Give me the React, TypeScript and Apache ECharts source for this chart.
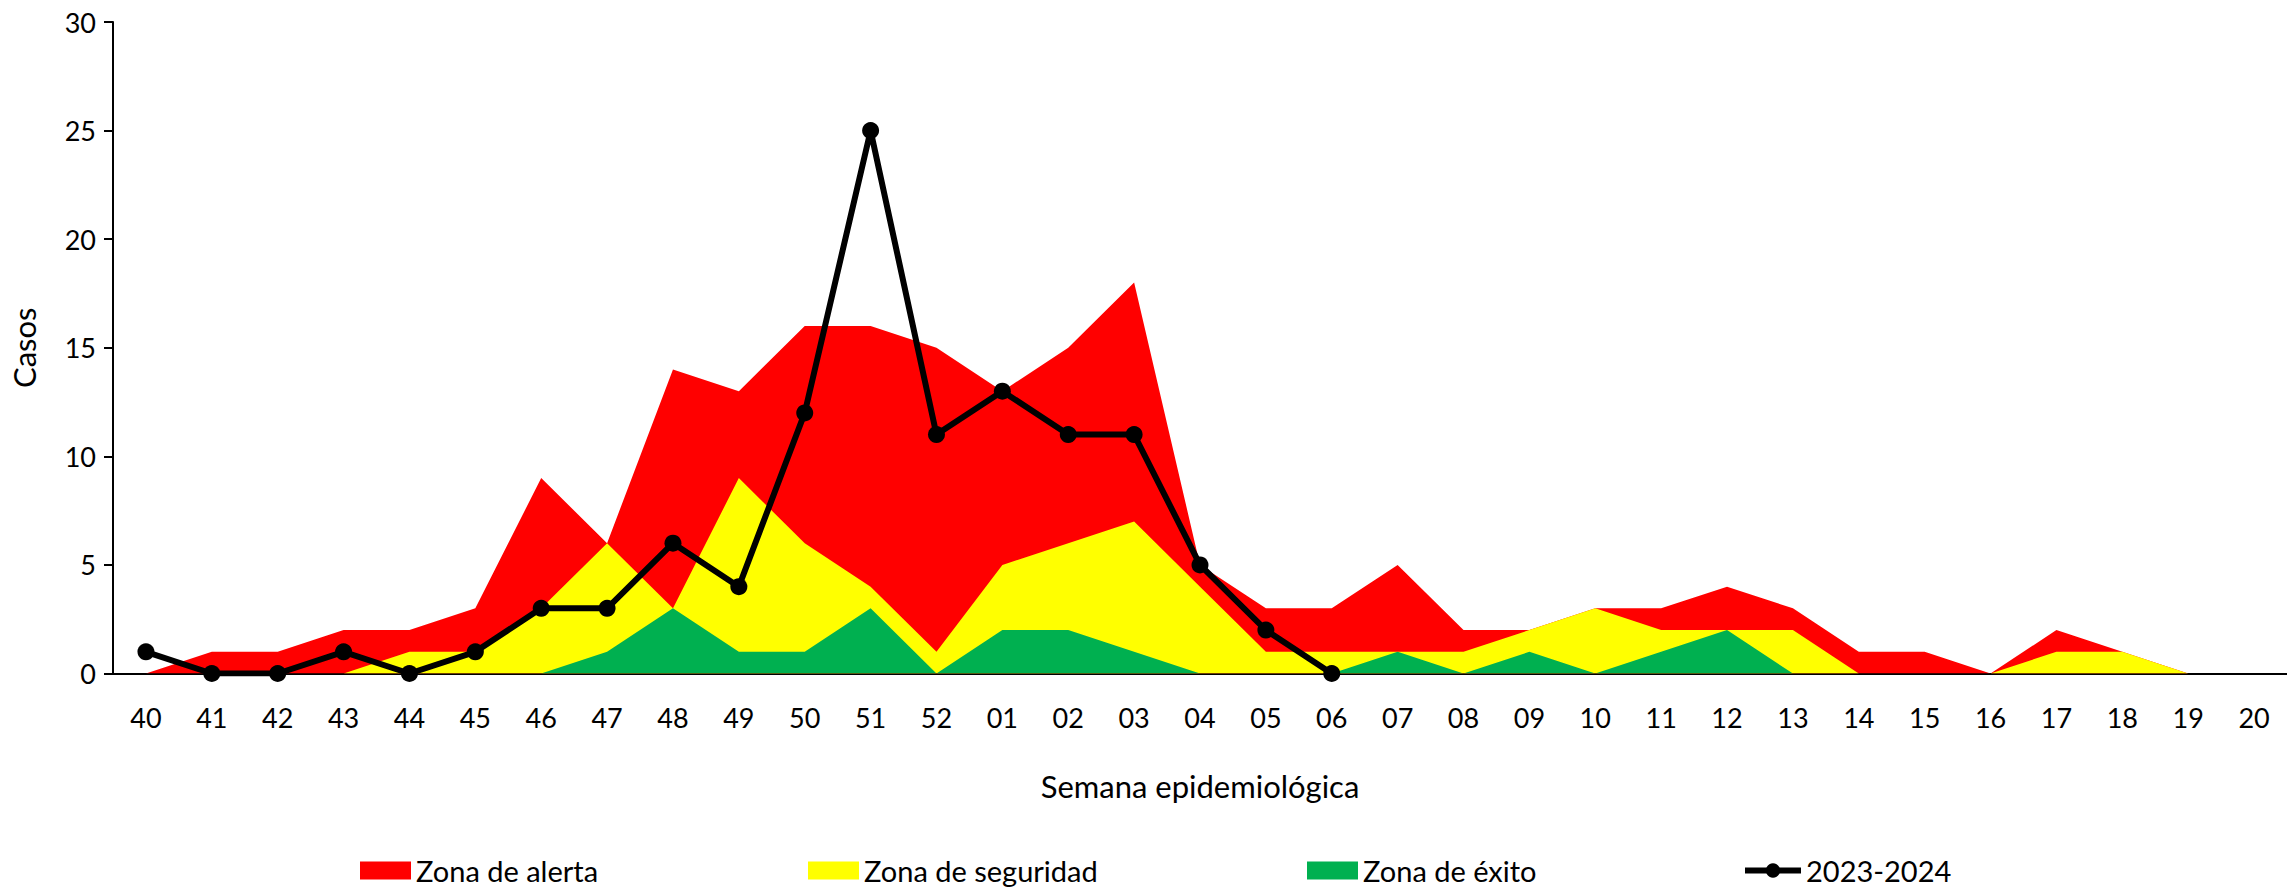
import React, { useEffect, useRef } from "react";
import * as echarts from "echarts";

const weeks = ["40","41","42","43","44","45","46","47","48","49","50","51","52","01","02","03","04","05","06","07","08","09","10","11","12","13","14","15","16","17","18","19","20"];
const zonaAlerta = [0,1,1,2,2,3,9,6,14,13,16,16,15,13,15,18,5,3,3,5,2,2,3,3,4,3,1,1,0,2,1,0,0];
const zonaSeguridad = [0,0,0,0,1,1,3,6,3,9,6,4,1,5,6,7,4,1,1,1,1,2,3,2,2,2,0,0,0,1,1,0,0];
const zonaExito = [0,0,0,0,0,0,0,1,3,1,1,3,0,2,2,1,0,0,0,1,0,1,0,1,2,0,0,0,0,0,0,0,0];
const casos2023 = [1,0,0,1,0,1,3,3,6,4,12,25,11,13,11,11,5,2,0];
const yTicks = { min: 0, max: 30, interval: 5 };

const FONT = "Lato";

export default function App() {
  const ref = useRef<HTMLDivElement>(null);
  useEffect(() => {
    if (!ref.current) return;
    const chart = echarts.init(ref.current, null, { renderer: "svg" });
    const areaSeries = (name: string, data: number[], color: string, z: number) => ({
      name,
      type: "line",
      data,
      color,
      itemStyle: { color },
      lineStyle: { width: 0, color },
      areaStyle: { color, opacity: 1 },
      symbol: "none",
      showSymbol: false,
      z,
    });
    const legendText = { fontFamily: FONT, fontSize: 29, color: "#000" };
    chart.setOption({
      animation: false,
      textStyle: { fontFamily: FONT },
      grid: { left: 111, top: 22, right: -16, bottom: 888 - 673.5 },
      xAxis: {
        type: "category",
        data: weeks,
        boundaryGap: true,
        name: "Semana epidemiológica",
        nameLocation: "middle",
        nameGap: 97,
        nameTextStyle: { fontFamily: FONT, fontSize: 31, color: "#000" },
        axisLine: { lineStyle: { color: "#000", width: 2 } },
        axisTick: { show: false },
        axisLabel: { fontFamily: FONT, fontSize: 27, color: "#000", margin: 30, interval: 0 },
      },
      yAxis: {
        type: "value",
        min: yTicks.min,
        max: yTicks.max,
        interval: yTicks.interval,
        name: "Casos",
        nameLocation: "middle",
        nameGap: 74,
        nameRotate: 90,
        nameTextStyle: { fontFamily: FONT, fontSize: 31, color: "#000" },
        axisLine: { show: true, lineStyle: { color: "#000", width: 2 } },
        axisTick: { show: true, length: 9, lineStyle: { color: "#000", width: 2 } },
        axisLabel: { fontFamily: FONT, fontSize: 27, color: "#000", margin: 17 },
        splitLine: { show: false },
      },
      legend: [
        { data: [{ name: "Zona de alerta", icon: "rect" }], left: 360, top: 856, padding: 0, itemWidth: 51, itemHeight: 18, itemGap: 5, textStyle: legendText },
        { data: [{ name: "Zona de seguridad", icon: "rect" }], left: 808, top: 856, padding: 0, itemWidth: 51, itemHeight: 18, textStyle: legendText },
        { data: [{ name: "Zona de éxito", icon: "rect" }], left: 1307, top: 856, padding: 0, itemWidth: 51, itemHeight: 18, textStyle: legendText },
        {
          data: [{ name: "2023-2024" }],
          left: 1742,
          top: 856,
          padding: 0,
          itemWidth: 56,
          itemHeight: 18,
          lineStyle: { width: 6, color: "#000" },
          itemStyle: { color: "#000" },
          textStyle: legendText,
        },
      ],
      series: [
        areaSeries("Zona de alerta", zonaAlerta, "#FF0000", 1),
        areaSeries("Zona de seguridad", zonaSeguridad, "#FFFF00", 2),
        areaSeries("Zona de éxito", zonaExito, "#00B050", 3),
        {
          name: "2023-2024",
          type: "line",
          data: casos2023,
          color: "#000",
          itemStyle: { color: "#000" },
          lineStyle: { color: "#000", width: 6 },
          symbol: "circle",
          symbolSize: 17,
          z: 5,
        },
      ],
    });
    return () => chart.dispose();
  }, []);
  return (
    <div
      ref={ref}
      style={{ position: "absolute", left: 0, top: 0, width: 2287, height: 888, background: "#fff" }}
    />
  );
}
